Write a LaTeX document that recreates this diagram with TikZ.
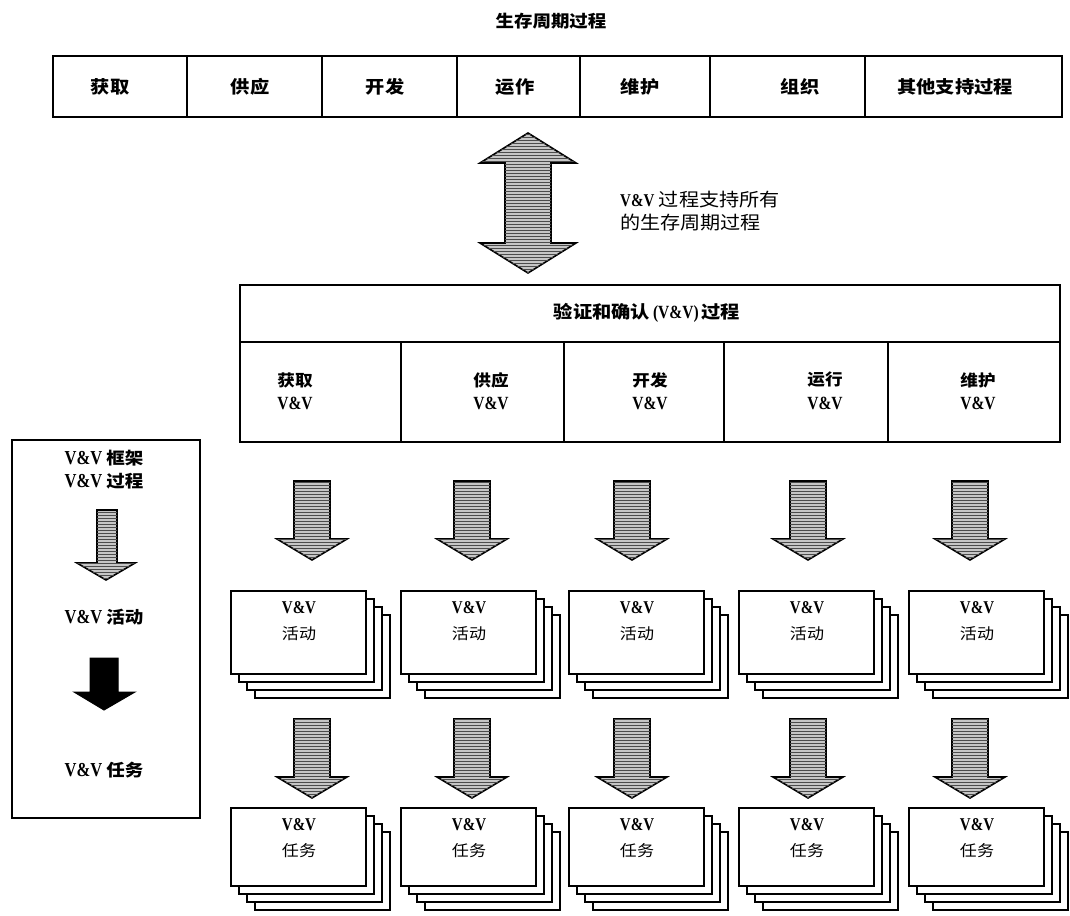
\documentclass[tikz,border=0pt]{standalone}
\usepackage{fontspec}
\usepackage{graphicx}
\setmainfont{Liberation Serif}
\newfontfamily\cjk[FakeStretch=1.1]{Noto Sans CJK SC}
\usetikzlibrary{patterns}
\newcommand\zh[1]{{\cjk #1}}
\newcommand\fs[1]{\fontsize{#1}{1.2\dimexpr#1pt\relax}\selectfont}
\newcommand\VV[1]{{\fontsize{#1}{#1}\selectfont\scalebox{1}[1.2]{\textbf{V\&V}}}}
\tikzset{
  boxline/.style={line width=1.6pt},
  hatcharrow/.style={draw=black, line width=1.6pt, fill=gray!45, line join=miter,
    postaction={pattern=horizontal lines, pattern color=gray!60!black}},
  solidarrow/.style={draw=black, line width=1pt, fill=black},
  cardbox/.style={draw=black, line width=1.5pt, fill=white, minimum width=135pt, inner sep=0pt, anchor=north west},
  lbl/.style={inner sep=0pt, align=center},
  pics/downarrow/.style={code={
    \draw[hatcharrow] (-18,0) -- (18,0) -- (18,58) -- (35,58) -- (0,79) -- (-35,58) -- (-18,58) -- cycle;
  }}
}
\begin{document}
\begin{tikzpicture}[x=1pt,y=-1pt]
\useasboundingbox (0,0) rectangle (1070,915);
\clip (0,0) rectangle (1070,915);

% title
\node[lbl, font=\fs{16.8}] (title) at (551,21) {\zh{\bfseries 生存周期过程}};

% top bar
\draw[boxline] (53,56) rectangle (1062,117);
\foreach \x in {187,322,457,580,710,865} \draw[boxline] (\x,56) -- (\x,117);
\foreach \x/\t/\n in {110/获取/t1,250/供应/t2,385/开发/t3,515/运作/t4,640/维护/t5,800/组织/t6,955/其他支持过程/t7}
  \node[lbl, font=\fs{17.5}] (\n) at (\x,87) {\zh{\bfseries \t}};

% double arrow
\draw[hatcharrow] (528,133) -- (576,163) -- (551,163) -- (551,243) -- (576,243) -- (528,273)
  -- (480,243) -- (505,243) -- (505,163) -- (480,163) -- cycle;
\node[lbl, anchor=west, font=\fs{18.3}] (dtext1) at (620,200) {\VV{15} \zh{过程支持所有}};
\node[lbl, anchor=west, font=\fs{18.3}] (dtext2) at (620,223) {\zh{的生存周期过程}};

% V&V process box
\draw[boxline] (240,285) rectangle (1060,442);
\draw[boxline] (240,342) -- (1060,342);
\foreach \x in {401,564,724,888} \draw[boxline] (\x,342) -- (\x,442);
\node[lbl, font=\fs{17.5}] (vvtitle) at (647,313) {\zh{\bfseries 验证和确认}\,{\fs{15.5}\scalebox{1}[1.2]{\textbf{(V\&V)}}}\,\zh{\bfseries 过程}};
\foreach \x/\t/\n in {295/获取/c1,491/供应/c2,650/开发/c3,825/运行/c4,978/维护/c5} {
  \node[lbl, font=\fs{16}] (\n) at (\x,380) {\zh{\bfseries \t}};
  \node[lbl] (\n v) at (\x,403) {\VV{15.5}};
}

% legend
\draw[boxline] (12,440) rectangle (200,818);
\node[lbl, font=\fs{16.8}] (lg1a) at (104,458) {\VV{16.5} \zh{\bfseries 框架}};
\node[lbl, font=\fs{16.8}] (lg1b) at (104,481) {\VV{16.5} \zh{\bfseries 过程}};
\draw[hatcharrow] (97,510) -- (117,510) -- (117,563) -- (135,563) -- (106,580) -- (77,563) -- (97,563) -- cycle;
\node[lbl, font=\fs{16.8}] (lg2) at (104,617) {\VV{16.5} \zh{\bfseries 活动}};
\draw[solidarrow] (90,658) -- (118,658) -- (118,692) -- (135,692) -- (104,710) -- (74,692) -- (90,692) -- cycle;
\node[lbl, font=\fs{16.8}] (lg3) at (104,770) {\VV{16.5} \zh{\bfseries 任务}};

% arrows row 1 and 2
\foreach \x [count=\i] in {312,472,632,808,970} {
  \pic (ra\i) at (\x,481) {downarrow};
  \pic (rb\i) at (\x,719) {downarrow};
}

% card stacks
\foreach \L/\T/\h/\t/\n in {230/590/83/活动/a1,400/590/83/活动/a2,568/590/83/活动/a3,738/590/83/活动/a4,908/590/83/活动/a5,
                            230/807/78/任务/b1,400/807/78/任务/b2,568/807/78/任务/b3,738/807/78/任务/b4,908/807/78/任务/b5} {
  \node[cardbox, minimum height=\h pt] (\n bk3) at (\L+24,\T+24) {};
  \node[cardbox, minimum height=\h pt] (\n bk2) at (\L+16,\T+16) {};
  \node[cardbox, minimum height=\h pt] (\n bk1) at (\L+8,\T+8) {};
  \node[cardbox, minimum height=\h pt] (\n) at (\L,\T) {};
  \node[lbl] (\n v) at (\L+69,\T+18) {\VV{15}};
  \node[lbl, font=\fs{15.5}] (\n t) at (\L+69,\T+44) {\zh{\t}};
}
\end{tikzpicture}
\end{document}
